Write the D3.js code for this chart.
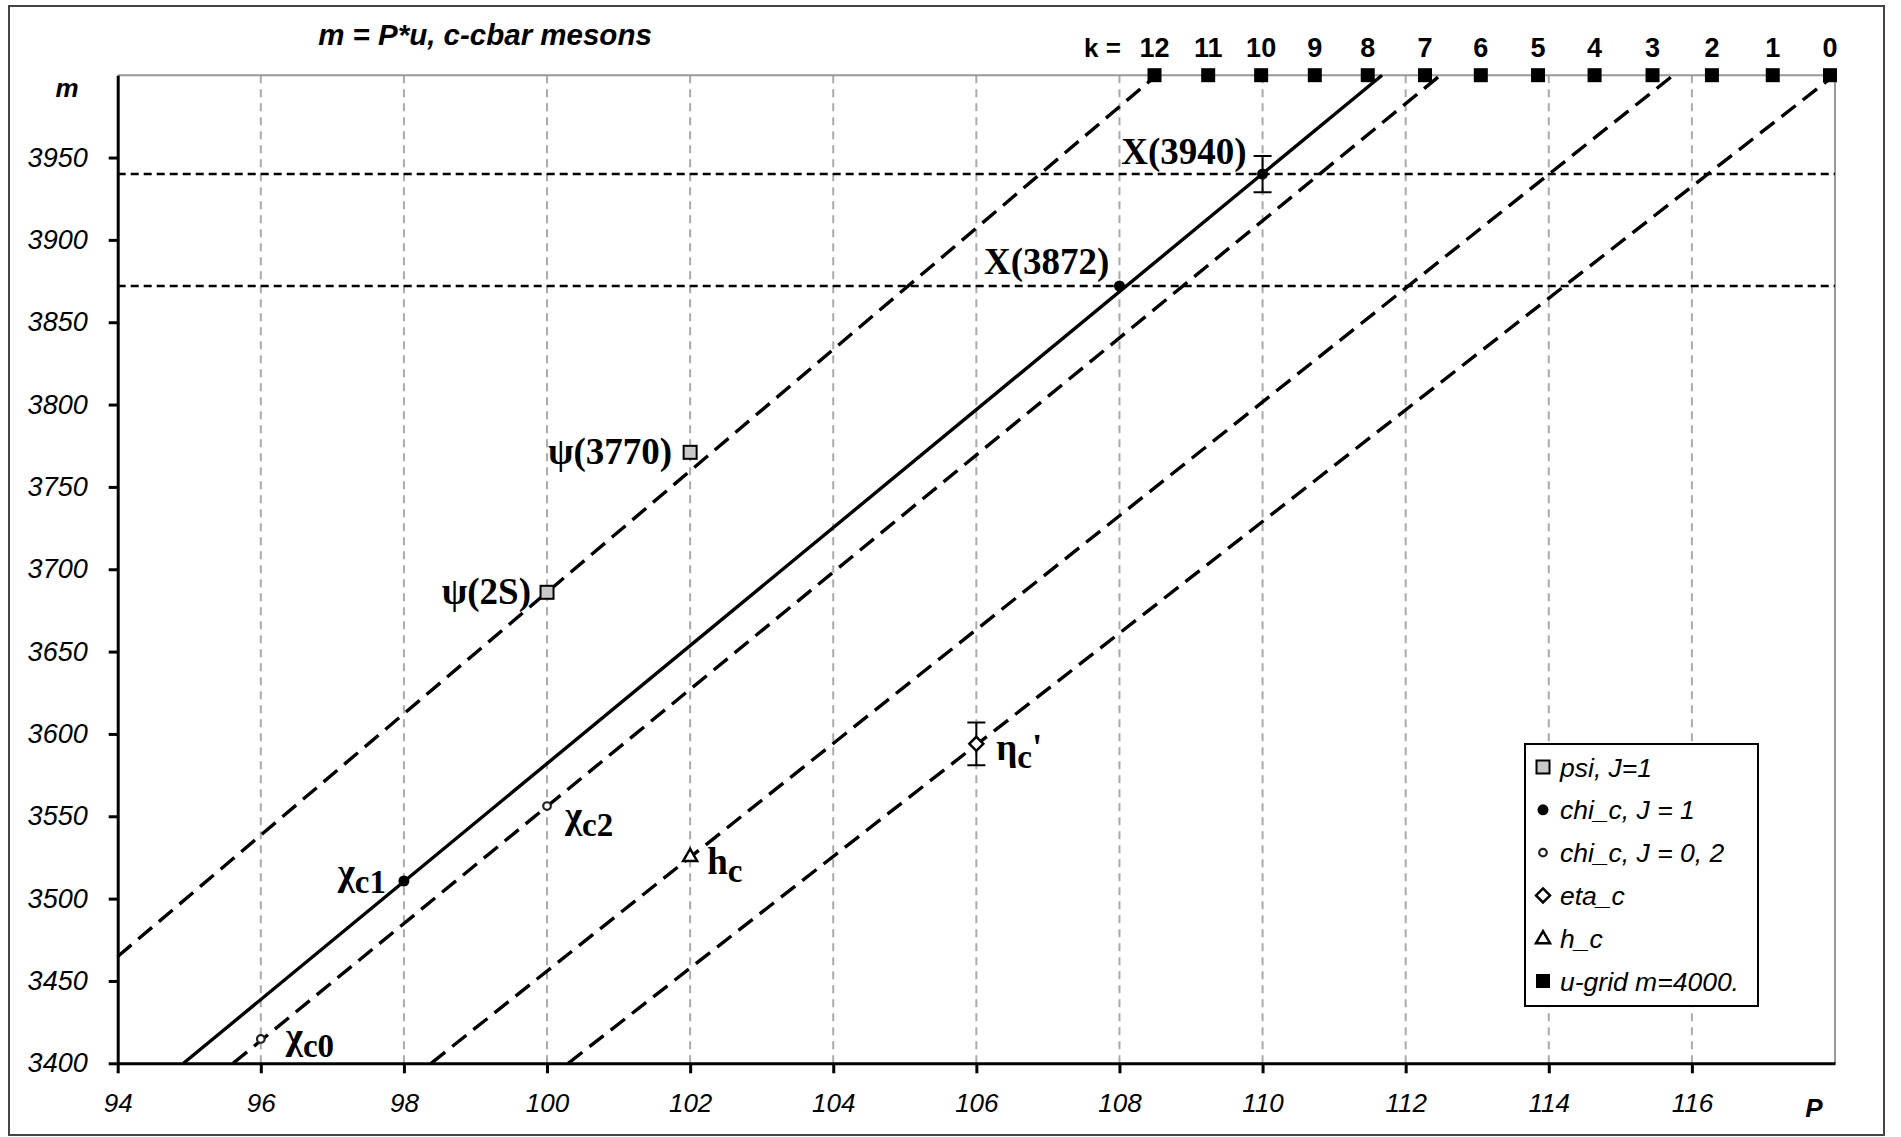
<!DOCTYPE html>
<html>
<head>
<meta charset="utf-8">
<script src="https://cdn.jsdelivr.net/npm/d3@7"></script>
<style>
  body { margin: 0; background: #fff; }
  svg { display: block; }
  .tick text { font-family: "Liberation Sans", Arial, sans-serif; font-style: italic; fill: #000; }
</style>
</head>
<body>
<svg id="chart" width="1901" height="1137"></svg>
<script>
// axis ticks
const pTicks = [94, 96, 98, 100, 102, 104, 106, 108, 110, 112, 114, 116]
const mTicks = [3400, 3450, 3500, 3550, 3600, 3650, 3700, 3750, 3800, 3850, 3900, 3950]

// u-grid at m = 4000
const kLabels = [12, 11, 10, 9, 8, 7, 6, 5, 4, 3, 2, 1, 0]
const kGridP = [108.49, 109.24, 109.98, 110.73, 111.47, 112.27, 113.05, 113.85, 114.64, 115.45, 116.28, 117.13, 117.93]

// lines m = u*P
const lineK = [12, 8, 7, 3, 0]
const lineU = [36.86, 35.82, 35.56, 34.56, 33.90]

// horizontal reference lines
const refM = [3940, 3872]

// mesons
const mesonNames = ["psi2S", "psi3770", "chic1", "chic2", "chic0", "hc", "etac2", "X3872", "X3940"]
const mesonP = [100, 102, 98, 100, 96, 102, 106, 108, 110]
const mesonM = [3686, 3771, 3510.7, 3556.2, 3414.8, 3525.9, 3594, 3872, 3940]
const mesonType = ["psi", "psi", "chi1", "chi02", "chi02", "hc", "eta", "chi1", "chi1"]
const mesonErr = [0, 0, 0, 0, 0, 0, 13, 0, 11]

// legend
const legendTypes = ["psi", "chi1", "chi02", "eta", "hc", "grid"]
const legendNames = ["psi, J=1", "chi_c, J = 1", "chi_c, J = 0, 2", "eta_c", "h_c", "u-grid m=4000."]

// label text + placement (main, subscript, suffix)
const labelCfg = {
  psi2S:   { main: "ψ(2S)",   sub: "",   suf: "", anchor: "end",   dx: -16, dy: 12 },
  psi3770: { main: "ψ(3770)", sub: "",   suf: "", anchor: "end",   dx: -18, dy: 12 },
  chic1:   { main: "χ",       sub: "c1", suf: "", anchor: "end",   dx: -18, dy: 4 },
  chic2:   { main: "χ",       sub: "c2", suf: "", anchor: "start", dx: 18,  dy: 22 },
  chic0:   { main: "χ",       sub: "c0", suf: "", anchor: "start", dx: 25,  dy: 10 },
  hc:      { main: "h",       sub: "c",  suf: "", anchor: "start", dx: 17,  dy: 18 },
  etac2:   { main: "η",       sub: "c",  suf: "'", anchor: "start", dx: 20, dy: 16 },
  X3872:   { main: "X(3872)", sub: "",   suf: "", anchor: "end",   dx: -10, dy: -12 },
  X3940:   { main: "X(3940)", sub: "",   suf: "", anchor: "end",   dx: -16, dy: -10 }
}

const sansFont = '"Liberation Sans", Arial, sans-serif'
const serifFont = '"Liberation Serif", "Times New Roman", serif'

const svg = d3.select("#chart")

const x = d3.scaleLinear().domain([94, 118]).range([117.7, 1835])
const y = d3.scaleLinear().domain([3400, 4000]).range([1063.3, 75.2])

// outer frame
svg.append("rect")
  .attr("x", 9).attr("y", 6)
  .attr("width", 1875).attr("height", 1129)
  .attr("fill", "none")
  .attr("stroke", "#444")
  .attr("stroke-width", 2)

// title
svg.append("text")
  .attr("x", 485).attr("y", 45)
  .attr("text-anchor", "middle")
  .style("font-family", sansFont)
  .style("font-weight", "bold")
  .style("font-style", "italic")
  .style("font-size", "29.5px")
  .text("m = P*u, c-cbar mesons")

// vertical gridlines
svg.append("g")
  .selectAll("line")
  .data(pTicks.slice(1))
  .enter()
  .append("line")
  .attr("x1", d => x(d)).attr("x2", d => x(d))
  .attr("y1", y(3400)).attr("y2", y(4000))
  .attr("stroke", "#aaa")
  .attr("stroke-width", 2)
  .attr("stroke-dasharray", "8,6")

// top and right plot border
svg.append("path")
  .attr("d", `M${x(94)},${y(4000)}H${x(118)}V${y(3400)}`)
  .attr("fill", "none")
  .attr("stroke", "#999")
  .attr("stroke-width", 2)

// horizontal reference lines
svg.append("g")
  .selectAll("line")
  .data(refM)
  .enter()
  .append("line")
  .attr("x1", x(94)).attr("x2", x(118))
  .attr("y1", d => y(d)).attr("y2", d => y(d))
  .attr("stroke", "#000")
  .attr("stroke-width", 2.3)
  .attr("stroke-dasharray", "8,5")

// m = u*P lines
svg.append("g")
  .selectAll("line")
  .data(lineU)
  .enter()
  .append("line")
  .attr("x1", d => x(Math.max(94, 3400 / d)))
  .attr("y1", d => y(Math.max(94, 3400 / d) * d))
  .attr("x2", d => x(4000 / d))
  .attr("y2", y(4000))
  .attr("stroke", "#000")
  .attr("stroke-width", 3.4)
  .attr("stroke-dasharray", (d, i) => lineK[i] === 8 ? null : "18,9")

// axes
const xAxis = svg.append("g")
  .attr("transform", `translate(0,${y(3400)})`)
  .call(d3.axisBottom(x).tickValues(pTicks).tickSize(10).tickSizeOuter(0).tickPadding(20))
xAxis.selectAll(".tick text").style("font-size", "26px")
const yAxis = svg.append("g")
  .attr("transform", `translate(${x(94)},0)`)
  .call(d3.axisLeft(y).tickValues(mTicks).tickFormat(d3.format("d"))
    .tickSize(9).tickSizeOuter(0).tickPadding(21))
yAxis.selectAll(".tick text").style("font-size", "27px")

;[xAxis, yAxis].forEach(function (ax) {
  ax.select(".domain").attr("stroke", "#000").attr("stroke-width", 3)
  ax.selectAll(".tick line").attr("stroke", "#000").attr("stroke-width", 3)
})

// axis titles
svg.append("text")
  .attr("x", 67).attr("y", 97)
  .attr("text-anchor", "middle")
  .style("font-family", sansFont).style("font-weight", "bold").style("font-style", "italic")
  .style("font-size", "26px")
  .text("m")
svg.append("text")
  .attr("x", 1814).attr("y", 1117)
  .attr("text-anchor", "middle")
  .style("font-family", sansFont).style("font-weight", "bold").style("font-style", "italic")
  .style("font-size", "26px")
  .text("P")

// markers
function drawMarker(g, type, cx, cy) {
  if (type === "psi") {
    g.append("rect")
      .attr("x", cx - 6.5).attr("y", cy - 6.5).attr("width", 13).attr("height", 13)
      .attr("fill", "#c8c8c8").attr("stroke", "#000").attr("stroke-width", 2)
  } else if (type === "grid") {
    g.append("rect")
      .attr("x", cx - 7).attr("y", cy - 7).attr("width", 14).attr("height", 14)
      .attr("fill", "#000")
  } else if (type === "chi1") {
    g.append("circle").attr("cx", cx).attr("cy", cy).attr("r", 5.5).attr("fill", "#000")
  } else if (type === "chi02") {
    g.append("circle").attr("cx", cx).attr("cy", cy).attr("r", 3.8)
      .attr("fill", "#fff").attr("stroke", "#222").attr("stroke-width", 2.2)
  } else if (type === "eta") {
    g.append("path")
      .attr("d", `M${cx},${cy - 7}L${cx + 7},${cy}L${cx},${cy + 7}L${cx - 7},${cy}Z`)
      .attr("fill", "#fff").attr("stroke", "#000").attr("stroke-width", 2.5)
  } else if (type === "hc") {
    g.append("path")
      .attr("d", `M${cx},${cy - 7}L${cx + 7},${cy + 5}L${cx - 7},${cy + 5}Z`)
      .attr("fill", "#fff").attr("stroke", "#000").attr("stroke-width", 2.5)
  }
}

// error bars
const errG = svg.append("g")
mesonErr.forEach(function (e, i) {
  if (!e) return
  const cx = x(mesonP[i])
  errG.append("path")
    .attr("d", `M${cx},${y(mesonM[i] + e)}V${y(mesonM[i] - e)}` +
      `M${cx - 9},${y(mesonM[i] + e)}H${cx + 9}M${cx - 9},${y(mesonM[i] - e)}H${cx + 9}`)
    .attr("fill", "none").attr("stroke", "#000").attr("stroke-width", 2)
})

const pointG = svg.append("g")
mesonNames.forEach(function (name, i) {
  drawMarker(pointG, mesonType[i], x(mesonP[i]), y(mesonM[i]))
})

// u-grid squares and k labels
const gridG = svg.append("g")
kGridP.forEach(function (p) {
  drawMarker(gridG, "grid", x(p), y(4000))
})
gridG.selectAll("text")
  .data(kLabels)
  .enter()
  .append("text")
  .attr("x", (d, i) => x(kGridP[i]))
  .attr("y", 57)
  .attr("text-anchor", "middle")
  .style("font-family", sansFont).style("font-weight", "bold").style("font-size", "27px")
  .text(d => d)
svg.append("text")
  .attr("x", 1084).attr("y", 57)
  .style("font-family", sansFont).style("font-weight", "bold").style("font-size", "26px")
  .text("k =")

// meson labels
const labelG = svg.append("g")
mesonNames.forEach(function (name, i) {
  const c = labelCfg[name]
  const t = labelG.append("text")
    .attr("x", x(mesonP[i]) + c.dx)
    .attr("y", y(mesonM[i]) + c.dy)
    .attr("text-anchor", c.anchor)
    .style("font-family", serifFont).style("font-weight", "bold").style("font-size", "37px")
  t.append("tspan").text(c.main)
  if (c.sub) {
    t.append("tspan").attr("dy", 8).style("font-size", "33px").text(c.sub)
  }
  if (c.suf) {
    t.append("tspan").attr("dy", -8).text(c.suf)
  }
})

// legend
const legend = svg.append("g")
legend.append("rect")
  .attr("x", 1525).attr("y", 744)
  .attr("width", 233).attr("height", 262)
  .attr("fill", "#fff").attr("stroke", "#000").attr("stroke-width", 2)
legendTypes.forEach(function (type, i) {
  const cy = 767 + i * 42.8
  drawMarker(legend, type, 1543, cy)
  legend.append("text")
    .attr("x", 1560).attr("y", cy)
    .attr("dy", "0.36em")
    .style("font-family", sansFont).style("font-style", "italic").style("font-size", "26.5px")
    .text(legendNames[i])
})
</script>
</body>
</html>
